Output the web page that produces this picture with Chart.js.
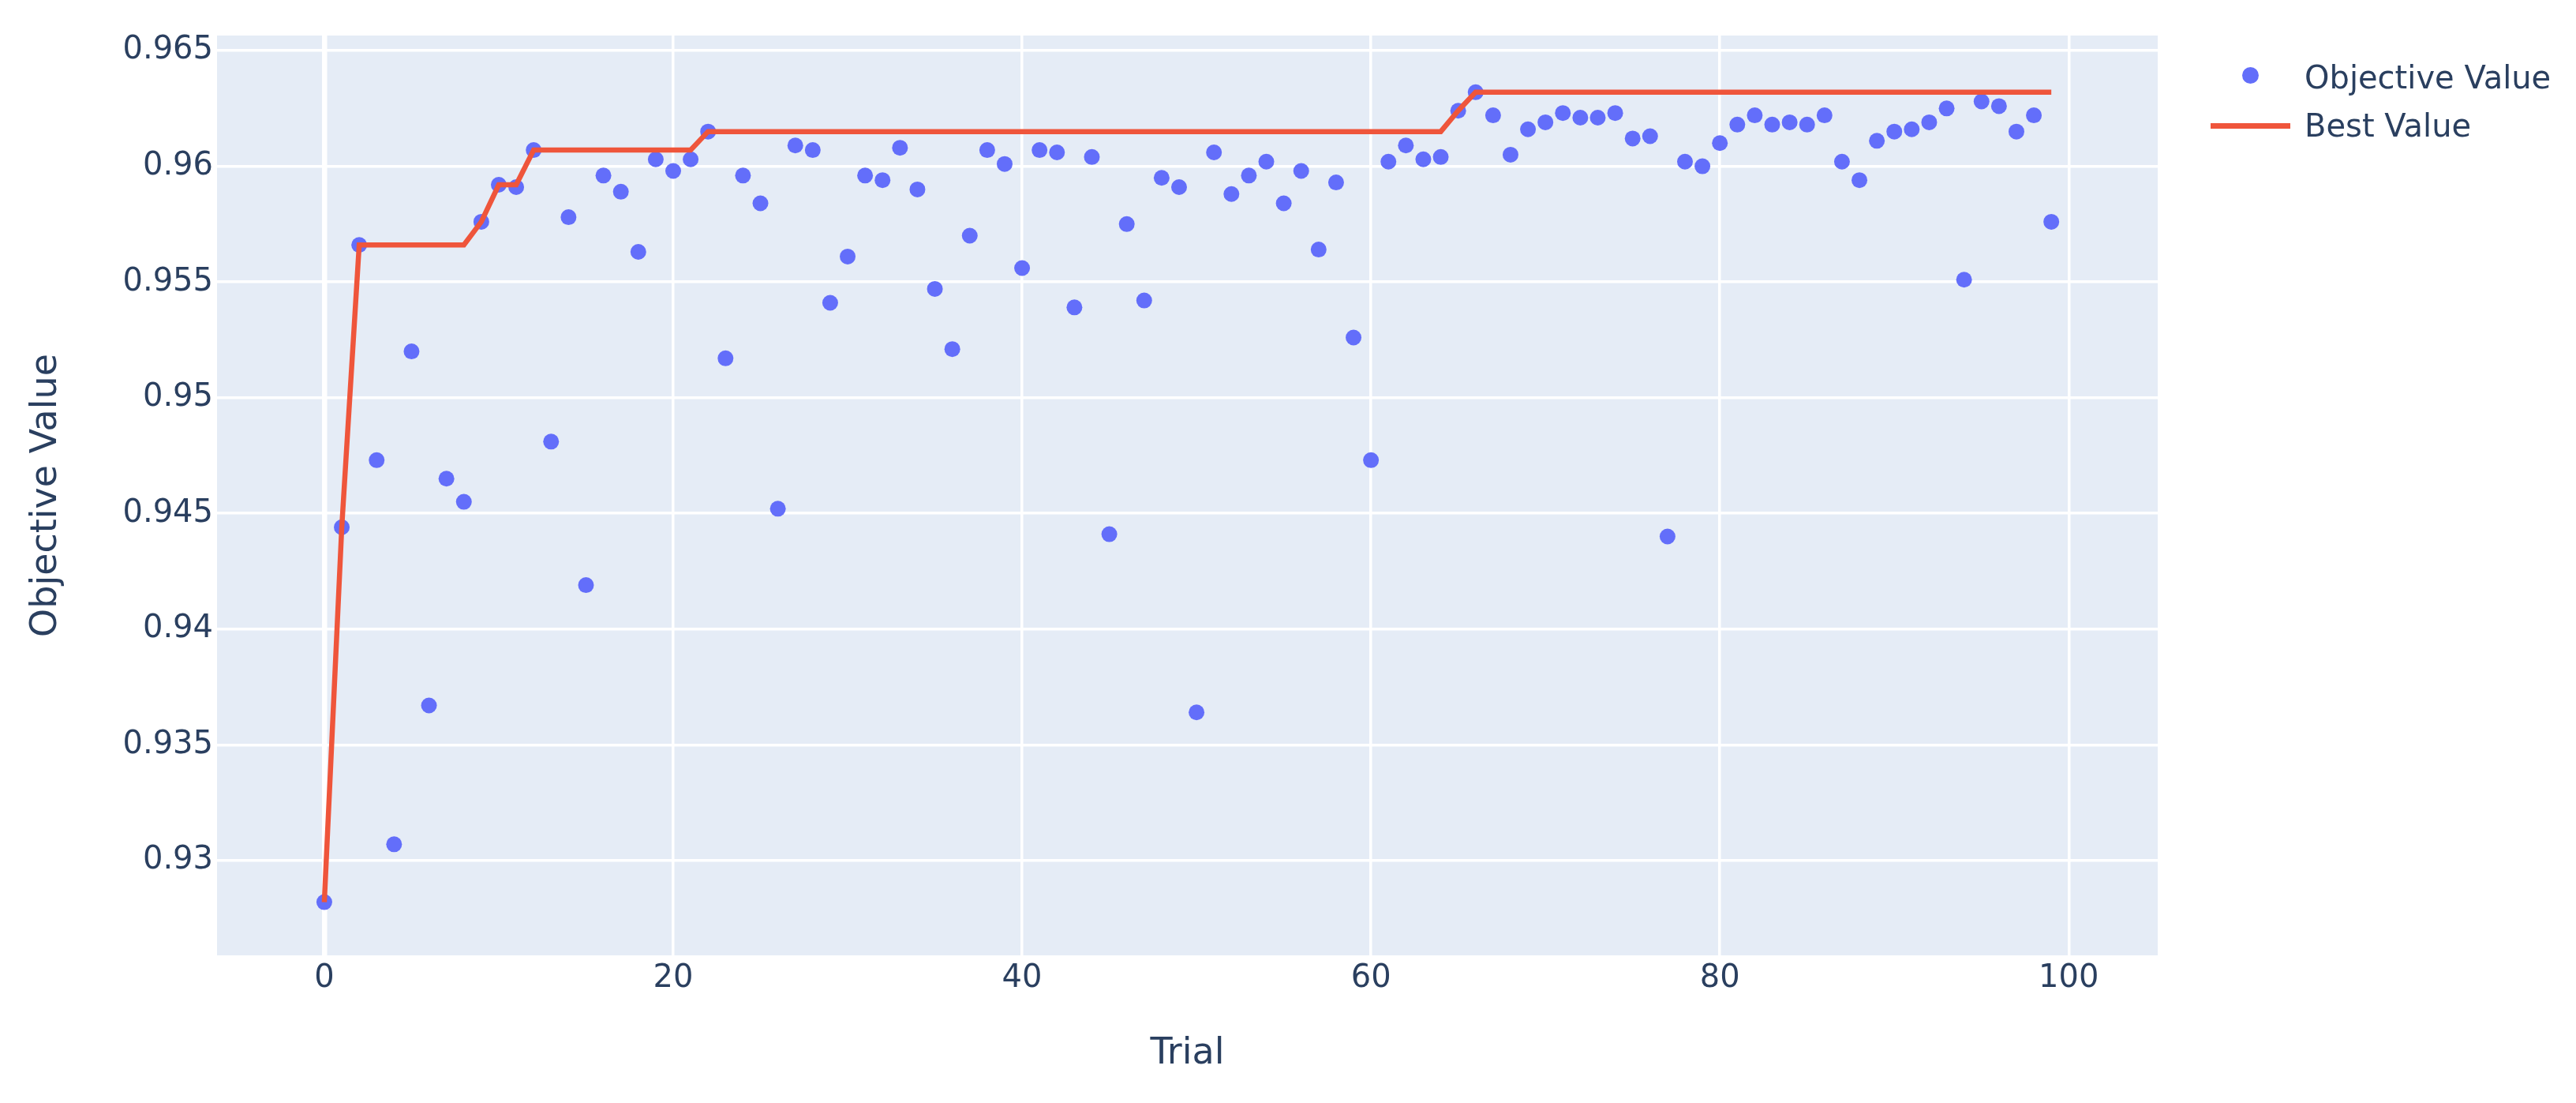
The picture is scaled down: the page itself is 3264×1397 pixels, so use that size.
<!DOCTYPE html>
<html>
<head>
<meta charset="utf-8">
<title>Optimization History</title>
<script src="https://cdn.jsdelivr.net/npm/chart.js@4.4.1/dist/chart.umd.min.js"></script>
<style>
  body { margin: 0; background: #fff; }
  #wrap { position: relative; width: 3264px; height: 1397px; }
  .legText { position: absolute; left: 2920px; font-family: "DejaVu Sans", sans-serif; font-size: 40px; color: #2a3f5f; line-height: 1; transform: translateY(-50%); white-space: nowrap; }
  #legDot { position: absolute; left: 2841px; top: 85px; width: 21px; height: 21px; border-radius: 50%; background: #636efa; }
  #legLine { position: absolute; left: 2801px; top: 156px; width: 101px; height: 7px; background: #EF553B; }
</style>
</head>
<body>
<div id="wrap">
  <canvas id="myChart" width="3264" height="1397"></canvas>
  <div id="legDot"></div>
  <div class="legText" style="top:98px">Objective Value</div>
  <div id="legLine"></div>
  <div class="legText" style="top:159px">Best Value</div>
</div>
<script>
let trials = [0,1,2,3,4,5,6,7,8,9,10,11,12,13,14,15,16,17,18,19,
  20,21,22,23,24,25,26,27,28,29,30,31,32,33,34,35,36,37,38,39,
  40,41,42,43,44,45,46,47,48,49,50,51,52,53,54,55,56,57,58,59,
  60,61,62,63,64,65,66,67,68,69,70,71,72,73,74,75,76,77,78,79,
  80,81,82,83,84,85,86,87,88,89,90,91,92,93,94,95,96,97,98,99];

let objectiveValues = [
  0.9282,0.9444,0.9566,0.9473,0.9307,0.9520,0.9367,0.9465,0.9455,0.9576,
  0.9592,0.9591,0.9607,0.9481,0.9578,0.9419,0.9596,0.9589,0.9563,0.9603,
  0.9598,0.9603,0.9615,0.9517,0.9596,0.9584,0.9452,0.9609,0.9607,0.9541,
  0.9561,0.9596,0.9594,0.9608,0.9590,0.9547,0.9521,0.9570,0.9607,0.9601,
  0.9556,0.9607,0.9606,0.9539,0.9604,0.9441,0.9575,0.9542,0.9595,0.9591,
  0.9364,0.9606,0.9588,0.9596,0.9602,0.9584,0.9598,0.9564,0.9593,0.9526,
  0.9473,0.9602,0.9609,0.9603,0.9604,0.9624,0.9632,0.9622,0.9605,0.9616,
  0.9619,0.9623,0.9621,0.9621,0.9623,0.9612,0.9613,0.9440,0.9602,0.9600,
  0.9610,0.9618,0.9622,0.9618,0.9619,0.9618,0.9622,0.9602,0.9594,0.9611,
  0.9615,0.9616,0.9619,0.9625,0.9551,0.9628,0.9626,0.9615,0.9622,0.9576];

let bestValues = [
  0.9282,0.9444,0.9566,0.9566,0.9566,0.9566,0.9566,0.9566,0.9566,0.9576,
  0.9592,0.9592,0.9607,0.9607,0.9607,0.9607,0.9607,0.9607,0.9607,0.9607,
  0.9607,0.9607,0.9615,0.9615,0.9615,0.9615,0.9615,0.9615,0.9615,0.9615,
  0.9615,0.9615,0.9615,0.9615,0.9615,0.9615,0.9615,0.9615,0.9615,0.9615,
  0.9615,0.9615,0.9615,0.9615,0.9615,0.9615,0.9615,0.9615,0.9615,0.9615,
  0.9615,0.9615,0.9615,0.9615,0.9615,0.9615,0.9615,0.9615,0.9615,0.9615,
  0.9615,0.9615,0.9615,0.9615,0.9615,0.9624,0.9632,0.9632,0.9632,0.9632,
  0.9632,0.9632,0.9632,0.9632,0.9632,0.9632,0.9632,0.9632,0.9632,0.9632,
  0.9632,0.9632,0.9632,0.9632,0.9632,0.9632,0.9632,0.9632,0.9632,0.9632,
  0.9632,0.9632,0.9632,0.9632,0.9632,0.9632,0.9632,0.9632,0.9632,0.9632];

let xTicks = [0, 20, 40, 60, 80, 100];
let yTicks = [0.93, 0.935, 0.94, 0.945, 0.95, 0.955, 0.96, 0.965];

let textColor = '#2a3f5f';
let fontName = 'DejaVu Sans';

// plotly style light blue plot area
let plotBg = {
  id: 'plotBg',
  beforeDraw(chart) {
    let a = chart.chartArea;
    let c = chart.ctx;
    c.save();
    c.fillStyle = '#E5ECF6';
    c.fillRect(a.left, a.top, a.right - a.left, a.bottom - a.top);
    c.restore();
  }
};

let mychart = new Chart(document.getElementById('myChart'), {
  type: 'scatter',
  data: {
    datasets: [
      {
        label: 'Best Value',
        data: trials.map((t, i) => ({ x: t, y: bestValues[i] })),
        showLine: true,
        borderColor: '#EF553B',
        borderWidth: 6.5,
        pointRadius: 0,
        tension: 0,
        order: 0
      },
      {
        label: 'Objective Value',
        data: trials.map((t, i) => ({ x: t, y: objectiveValues[i] })),
        backgroundColor: '#636efa',
        borderWidth: 0,
        pointRadius: 10,
        order: 1
      }
    ]
  },
  options: {
    responsive: false,
    devicePixelRatio: 1,
    animation: false,
    layout: { padding: { left: 0, top: 45, right: 530, bottom: 0 } },
    plugins: {
      legend: { display: false },
      tooltip: { enabled: false }
    },
    scales: {
      x: {
        type: 'linear',
        min: -6.15,
        max: 105.1,
        border: { display: false },
        grid: {
          color: '#ffffff',
          lineWidth: c => (c.tick && c.tick.value === 0 ? 6.5 : 3.5),
          drawTicks: false
        },
        afterBuildTicks: s => { s.ticks = xTicks.map(v => ({ value: v })); },
        ticks: {
          padding: 6,
          maxRotation: 0,
          color: textColor,
          font: { family: fontName, size: 40 },
          callback: v => String(v)
        },
        title: {
          display: true,
          text: 'Trial',
          color: textColor,
          font: { family: fontName, size: 46 },
          padding: { top: 0, bottom: 34 }
        },
        afterFit: s => { s.height = 187; }
      },
      y: {
        type: 'linear',
        min: 0.9259,
        max: 0.96565,
        border: { display: false },
        grid: { color: '#ffffff', lineWidth: 3.5, drawTicks: false },
        afterBuildTicks: s => { s.ticks = yTicks.map(v => ({ value: v })); },
        ticks: {
          padding: 5,
          color: textColor,
          font: { family: fontName, size: 40 },
          callback: v => String(+v.toFixed(3))
        },
        title: {
          display: true,
          text: 'Objective Value',
          color: textColor,
          font: { family: fontName, size: 46 },
          padding: { top: 31, bottom: 0 }
        },
        afterFit: s => { s.width = 275; }
      }
    }
  },
  plugins: [plotBg]
});
</script>
</body>
</html>
